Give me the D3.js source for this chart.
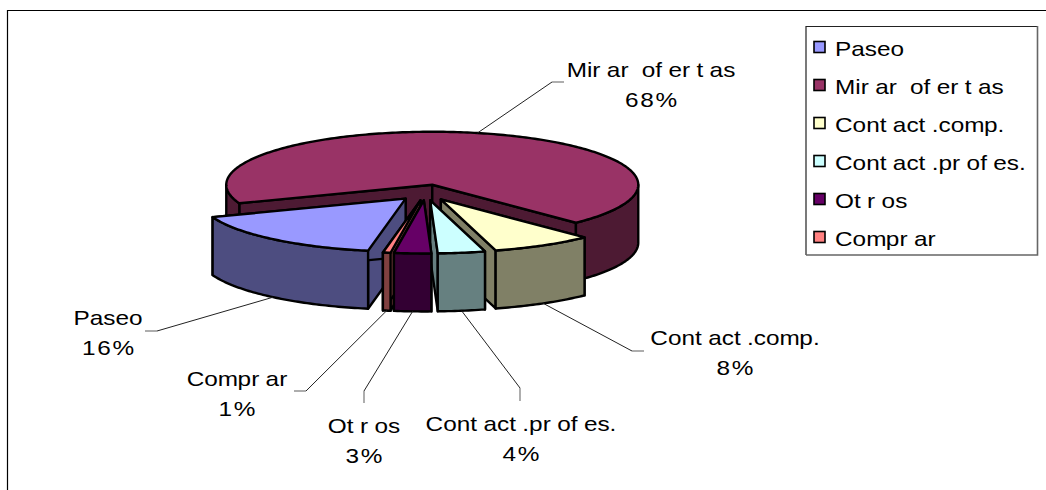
<!DOCTYPE html>
<html>
<head>
<meta charset="utf-8">
<script src="https://cdn.jsdelivr.net/npm/d3@7"></script>
<style>
  html, body { margin: 0; padding: 0; background: #fff; }
  svg { display: block; }
  text { font-family: "Liberation Sans", Arial, sans-serif; font-size: 21px; fill: #000; }
</style>
</head>
<body>
<div id="container"></div>
<script>
// data
var categories = ["Paseo", "Mirar ofertas", "Contact.comp.", "Contact.profes.", "Otros", "Comprar"];
var values = [16.4, 68.4, 8.0, 3.7, 2.9, 0.6];
var colors = ["#9999FF", "#993366", "#FFFFCC", "#CCFFFF", "#660066", "#FF8080"];

var width = 1046, height = 490;

// pie geometry: ellipse for the tilted circle
var cx = 425.5, cy = 192.5, rx = 206, ry = 53,
	depth = 58, explode = 0.15;
var start = 190.5 * Math.PI / 180;

// where each label sits and where its leader bends [labelX, labelY, bendX, bendY, endX, endY]
var labelSpots = [
	[108, 325, 157, 331, 145, 331],
	[651, 77, 552, 82, 564, 82],
	[735, 345, 632, 351, 644, 351],
	[521, 431, 520, 388, 520, 401],
	[364, 433, 364, 391, 364, 403],
	[237, 386, 306, 391, 294, 391]
];

var svg = d3.select("#container")
	.append("svg")
	.attr("width", width)
	.attr("height", height);

// unit circle -> screen
var xScale = d3.scaleLinear().domain([-1, 1]).range([cx - rx, cx + rx]);
var yScale = d3.scaleLinear().domain([-1, 1]).range([cy - ry, cy + ry]);
var line = d3.line();

var pie = d3.pie()
	.sort(null)
	.startAngle(start)
	.endAngle(start + 2 * Math.PI);

var slices = pie(values).map(function(d, i) {
	d.name = categories[i];
	d.color = colors[i];
	d.mid = (d.startAngle + d.endAngle) / 2;
	d.ox = explode * Math.sin(d.mid);
	d.oy = -explode * Math.cos(d.mid);
	return d;
});

// point of a slice at angle a and radius r, dropped by h pixels
function pt(d, a, r, h) {
	return [
		xScale(d.ox + r * Math.sin(a)),
		yScale(d.oy - r * Math.cos(a)) + (h || 0)
	];
}

// half brightness for the side walls
function shade(c) {
	var k = d3.rgb(c);
	return d3.rgb(k.r / 2, k.g / 2, k.b / 2).formatHex();
}

function arcPoints(d, a0, a1, h) {
	var n = Math.max(2, Math.ceil((a1 - a0) * 60));
	return d3.range(n + 1).map(function(i) {
		return pt(d, a0 + (a1 - a0) * i / n, 1, h);
	});
}

// only the part of the rim that faces the viewer has a wall
function frontParts(d) {
	var parts = [];
	[[Math.PI / 2, 1.5 * Math.PI], [2.5 * Math.PI, 3.5 * Math.PI]].forEach(function(w) {
		var a0 = Math.max(d.startAngle, w[0]), a1 = Math.min(d.endAngle, w[1]);
		if (a1 > a0) parts.push([a0, a1]);
	});
	return parts;
}

// back slices first
var drawOrder = slices.slice().sort(function(a, b) {
	var da = Math.abs(Math.PI - (a.mid % (2 * Math.PI)));
	var db = Math.abs(Math.PI - (b.mid % (2 * Math.PI)));
	return db - da;
});

var pieG = svg.append("g")
	.attr("stroke", "#000")
	.attr("stroke-width", 2.4)
	.attr("stroke-linejoin", "round");

drawOrder.forEach(function(d) {
	var side = shade(d.color);
	var g = pieG.append("g");

	// radial walls
	[d.startAngle, d.endAngle].forEach(function(a) {
		g.append("path")
			.attr("fill", side)
			.attr("d", line([pt(d, 0, 0), pt(d, a, 1), pt(d, a, 1, depth), pt(d, 0, 0, depth)]) + "Z");
	});

	// outer wall
	frontParts(d).forEach(function(p) {
		var top = arcPoints(d, p[0], p[1], 0);
		var bottom = arcPoints(d, p[0], p[1], depth).reverse();
		g.append("path")
			.attr("fill", side)
			.attr("d", line(top.concat(bottom)) + "Z");
	});

	// top face
	g.append("path")
		.attr("fill", d.color)
		.attr("d", line([pt(d, 0, 0)].concat(arcPoints(d, d.startAngle, d.endAngle, 0))) + "Z");
});

// odd spacing of the original: extra gap after r, t and f
function gaps(s) {
	var out = [0];
	for (var i = 1; i < s.length; i++) {
		var p = s[i - 1];
		var g = 0;
		if (p == "r" || p == "t" || p == "f") g = 5.5;
		if (p == "%" || /[0-9]/.test(p)) g = 1.5;
		if (p == "m") g = -0.5;
		out.push(g);
	}
	return out.join(" ");
}

function addText(parent, s, x, y, anchor) {
	parent.append("text")
		.attr("transform", "translate(" + x + "," + y + ") scale(1.16,1)")
		.attr("text-anchor", anchor)
		.attr("dx", gaps(s))
		.text(s);
}

// leaders and data labels
var labels = svg.append("g");
slices.forEach(function(d, i) {
	var s = labelSpots[i];
	// top rim for the back slice, bottom rim for the others
	var isBack = Math.cos(d.mid) > 0;
	var p = pt(d, d.mid, 1, isBack ? 0 : depth);
	labels.append("path")
		.attr("d", line([p, [s[2], s[3]]]))
		.attr("fill", "none")
		.attr("stroke", "#222")
		.attr("stroke-width", 1);
	labels.append("path")
		.attr("d", line([[s[2], s[3]], [s[4], s[5]]]))
		.attr("fill", "none")
		.attr("stroke", "#777")
		.attr("stroke-width", 1.2);
	addText(labels, d.name, s[0], s[1], "middle");
	addText(labels, d3.format(".0f")(values[i]) + "%", s[0], s[1] + 30, "middle");
});

// frame, open at the right and bottom
svg.append("path")
	.attr("d", line([[7.5, height], [7.5, 10.5], [width, 10.5]]))
	.attr("fill", "none")
	.attr("stroke", "#000")
	.attr("stroke-width", 1.2);

// legend
var legend = svg.append("g");
legend.append("path")
	.attr("d", line([[806, 255], [806, 26.5], [1037.5, 26.5]]))
	.attr("fill", "none")
	.attr("stroke", "#222")
	.attr("stroke-width", 1.2);
legend.append("path")
	.attr("d", line([[1037.5, 26], [1037.5, 255], [806, 255]]))
	.attr("fill", "none")
	.attr("stroke", "#666")
	.attr("stroke-width", 1.6);

var legendY = d3.scalePoint()
	.domain(categories)
	.range([56, 246]);

categories.forEach(function(c, i) {
	var y = legendY(c);
	legend.append("rect")
		.attr("x", 814)
		.attr("y", y - 14.5)
		.attr("width", 11)
		.attr("height", 11)
		.attr("fill", colors[i])
		.attr("stroke", "#000")
		.attr("stroke-width", 1.6);
	addText(legend, c, 835, y, "start");
});
</script>
</body>
</html>
